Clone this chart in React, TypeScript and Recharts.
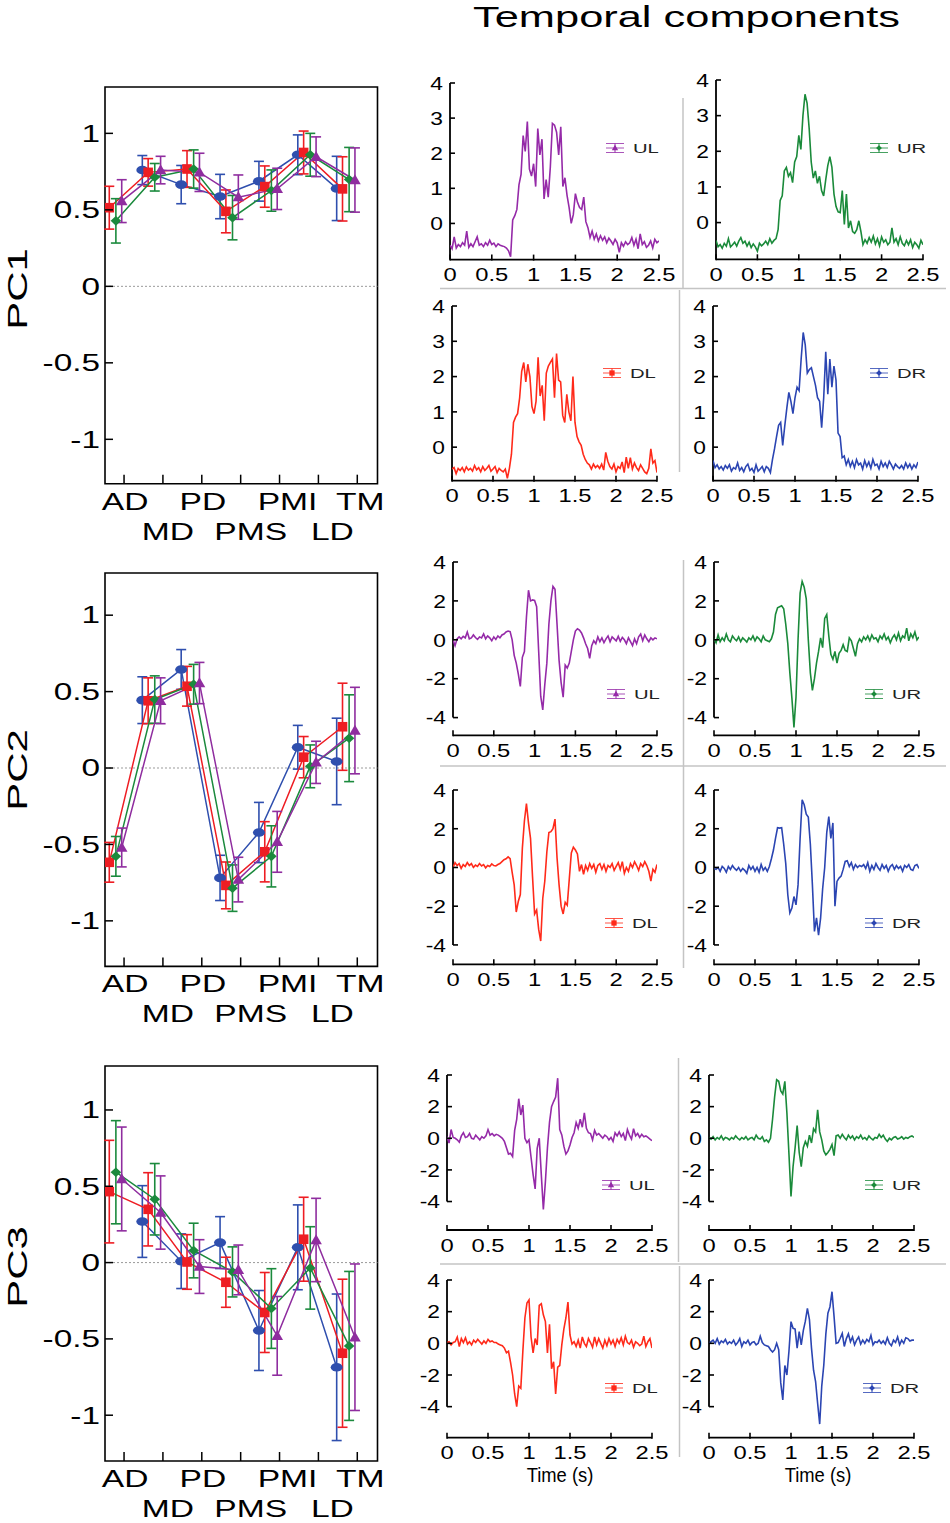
import React from 'react'
import { LineChart, Line, XAxis, YAxis, ReferenceLine, ReferenceArea, ErrorBar, Legend } from 'recharts'

const FONT = '"Liberation Sans", Arial, Helvetica, sans-serif'

// ---- spatial loadings (left column) ----
const CATEGORIES = ['AD', 'MD', 'PD', 'PMS', 'PMI', 'LD', 'TM']
const LOADING_Y_TICKS = [-1, -0.5, 0, 0.5, 1]

const PC1_BLUE = [null, 0.76, 0.665, 0.587, 0.687, 0.86, 0.64]
const PC1_BLUE_ERR = [null, 0.095, 0.125, 0.145, 0.13, 0.13, 0.21]
const PC1_RED = [0.514, 0.745, 0.767, 0.49, 0.652, 0.875, 0.637]
const PC1_RED_ERR = [0.14, 0.09, 0.12, 0.14, 0.135, 0.14, 0.21]
const PC1_GREEN = [0.428, 0.713, 0.767, 0.449, 0.626, 0.86, 0.698]
const PC1_GREEN_ERR = [0.145, 0.09, 0.125, 0.145, 0.135, 0.14, 0.21]
const PC1_PURPLE = [0.557, 0.76, 0.745, 0.583, 0.637, 0.847, 0.695]
const PC1_PURPLE_ERR = [0.14, 0.09, 0.125, 0.145, 0.135, 0.13, 0.21]

const PC2_BLUE = [null, 0.444, 0.645, -0.719, -0.422, 0.136, 0.043]
const PC2_BLUE_ERR = [null, 0.153, 0.13, 0.148, 0.197, 0.143, 0.283]
const PC2_RED = [-0.617, 0.44, 0.535, -0.768, -0.548, 0.071, 0.27]
const PC2_RED_ERR = [0.13, 0.15, 0.13, 0.153, 0.197, 0.135, 0.285]
const PC2_GREEN = [-0.578, 0.448, 0.548, -0.786, -0.578, 0.011, 0.195]
const PC2_GREEN_ERR = [0.13, 0.155, 0.13, 0.152, 0.2, 0.14, 0.284]
const PC2_PURPLE = [-0.52, 0.44, 0.556, -0.73, -0.483, 0.037, 0.245]
const PC2_PURPLE_ERR = [0.127, 0.15, 0.135, 0.146, 0.199, 0.138, 0.283]

const PC3_BLUE = [null, 0.269, 0.009, 0.131, -0.445, 0.1, -0.686]
const PC3_BLUE_ERR = [null, 0.235, 0.179, 0.17, 0.262, 0.278, 0.48]
const PC3_RED = [0.465, 0.349, 0.004, -0.129, -0.327, 0.153, -0.594]
const PC3_RED_ERR = [0.336, 0.24, 0.179, 0.164, 0.262, 0.275, 0.485]
const PC3_GREEN = [0.592, 0.415, 0.079, -0.061, -0.301, -0.035, -0.546]
const PC3_GREEN_ERR = [0.338, 0.234, 0.179, 0.164, 0.261, 0.27, 0.488]
const PC3_PURPLE = [0.548, 0.328, -0.026, -0.048, -0.48, 0.148, -0.489]
const PC3_PURPLE_ERR = [0.34, 0.24, 0.176, 0.163, 0.258, 0.273, 0.48]

// ---- temporal components (right columns) ----
const TIME = [
  0, 0.025, 0.05, 0.075, 0.1, 0.125, 0.15, 0.175, 0.2, 0.225, 0.25, 0.275, 0.3, 0.325, 0.35, 0.375, 0.4, 0.425, 0.45, 0.475,
  0.5, 0.525, 0.55, 0.575, 0.6, 0.625, 0.65, 0.675, 0.7, 0.725, 0.75, 0.775, 0.8, 0.825, 0.85, 0.875, 0.9, 0.925, 0.95, 0.975,
  1, 1.025, 1.05, 1.075, 1.1, 1.125, 1.15, 1.175, 1.2, 1.225, 1.25, 1.275, 1.3, 1.325, 1.35, 1.375, 1.4, 1.425, 1.45, 1.475,
  1.5, 1.525, 1.55, 1.575, 1.6, 1.625, 1.65, 1.675, 1.7, 1.725, 1.75, 1.775, 1.8, 1.825, 1.85, 1.875, 1.9, 1.925, 1.95, 1.975,
  2, 2.025, 2.05, 2.075, 2.1, 2.125, 2.15, 2.175, 2.2, 2.225, 2.25, 2.275, 2.3, 2.325, 2.35, 2.375, 2.4, 2.425, 2.45, 2.475,
  2.5,
]
const TIME_TICKS = [0, 0.5, 1, 1.5, 2, 2.5]
const PC1_TRACE_TICKS = [0, 1, 2, 3, 4]
const PC23_TRACE_TICKS = [-4, -2, 0, 2, 4]

const PC1_UL = [
  -0.62, -0.72, -0.38, -0.70, -0.60, -0.66, -0.55, -0.62, -0.22, -0.68,
  -0.58, -0.66, -0.52, -0.38, -0.62, -0.58, -0.66, -0.55, -0.62, -0.48,
  -0.60, -0.56, -0.66, -0.58, -0.62, -0.64, -0.66, -0.70, -0.78, -0.95,
  0.10, 0.22, 0.40, 1.10, 1.40, 2.50, 2.05, 2.90, 1.55, 1.35,
  1.70, 1.05, 2.70, 1.95, 2.40, 0.70, 1.25, 0.75, 1.60, 2.85,
  2.80, 2.60, 1.95, 2.75, 1.05, 1.30, 0.80, 0.45, 0.00, 0.25,
  0.85, 0.60, 0.45, 0.40, 0.75, 0.05, -0.12, -0.40, -0.22, -0.45,
  -0.30, -0.50, -0.35, -0.48, -0.38, -0.55, -0.42, -0.50, -0.60, -0.45,
  -0.55, -0.82, -0.55, -0.65, -0.52, -0.60, -0.55, -0.40, -0.62, -0.45,
  -0.72, -0.30, -0.60, -0.52, -0.68, -0.62, -0.50, -0.70, -0.45, -0.55,
  -0.50,
]
const PC1_UR = [
  -0.50, -0.68, -0.62, -0.72, -0.58, -0.66, -0.45, -0.68, -0.62, -0.55,
  -0.66, -0.52, -0.42, -0.58, -0.52, -0.66, -0.55, -0.70, -0.60, -0.68,
  -0.80, -0.58, -0.65, -0.60, -0.52, -0.62, -0.45, -0.58, -0.50, -0.45,
  -0.20, 0.62, 0.75, 1.45, 1.55, 1.30, 1.40, 1.12, 1.70, 1.85,
  2.45, 2.05, 3.00, 3.60, 3.35, 2.65, 1.70, 1.25, 1.45, 1.10,
  1.30, 0.90, 0.75, 1.20, 1.60, 1.85, 1.55, 0.80, 0.45, 0.30,
  0.28, 0.90, -0.05, 0.80, -0.15, 0.05, -0.25, -0.30, -0.20, 0.05,
  -0.25, -0.62, -0.48, -0.58, -0.42, -0.55, -0.38, -0.60, -0.45, -0.65,
  -0.40, -0.55, -0.48, -0.62, -0.55, -0.15, -0.55, -0.45, -0.62, -0.40,
  -0.58, -0.65, -0.50, -0.62, -0.48, -0.70, -0.55, -0.62, -0.72, -0.50,
  -0.62,
]
const PC1_DL = [
  -0.62, -0.58, -0.75, -0.60, -0.66, -0.58, -0.70, -0.56, -0.65, -0.60,
  -0.68, -0.52, -0.64, -0.58, -0.70, -0.55, -0.66, -0.60, -0.52, -0.68,
  -0.62, -0.55, -0.72, -0.60, -0.66, -0.70, -0.62, -0.88, -0.60, -0.20,
  0.70, 0.85, 0.95, 1.40, 2.15, 2.40, 1.85, 2.35, 2.00, 1.15,
  0.95, 1.30, 2.55, 1.45, 1.75, 0.75, 2.10, 2.30, 2.40, 2.50,
  1.40, 2.65, 1.90, 1.85, 0.90, 0.70, 1.50, 1.00, 0.75, 2.00,
  0.70, 0.30, 0.15, 0.05, -0.20, -0.35, -0.45, -0.50, -0.62, -0.48,
  -0.58, -0.52, -0.60, -0.48, -0.65, -0.15, -0.40, -0.55, -0.62, -0.48,
  -0.70, -0.55, -0.60, -0.42, -0.72, -0.28, -0.60, -0.30, -0.62, -0.45,
  -0.58, -0.66, -0.50, -0.60, -0.70, -0.75, -0.60, -0.05, -0.45, -0.38,
  -0.72,
]
const PC1_DR = [
  -0.38, -0.58, -0.50, -0.62, -0.55, -0.65, -0.52, -0.60, -0.50, -0.68,
  -0.58, -0.62, -0.45, -0.66, -0.58, -0.70, -0.55, -0.48, -0.66, -0.60,
  -0.72, -0.50, -0.68, -0.62, -0.55, -0.70, -0.55, -0.60, -0.72, -0.35,
  -0.05, 0.30, 0.62, 0.70, 0.05, 0.60, 1.10, 1.55, 1.30, 0.95,
  1.40, 1.70, 1.60, 2.50, 3.25, 2.90, 2.10, 2.20, 2.25, 2.00,
  1.75, 1.40, 1.30, 0.55, 1.40, 2.70, 1.50, 2.50, 1.70, 2.30,
  1.90, 0.40, 0.30, -0.30, -0.25, -0.50, -0.35, -0.55, -0.40, -0.58,
  -0.35, -0.50, -0.45, -0.62, -0.38, -0.55, -0.42, -0.60, -0.35, -0.52,
  -0.48, -0.62, -0.40, -0.55, -0.45, -0.58, -0.40, -0.50, -0.62, -0.48,
  -0.55, -0.60, -0.52, -0.62, -0.45, -0.58, -0.48, -0.62, -0.50, -0.58,
  -0.42,
]
const PC2_UL = [
  0.00, -0.30, 0.05, 0.15, 0.05, 0.18, 0.10, 0.40, 0.05, 0.10,
  0.25, 0.12, 0.02, 0.15, 0.10, 0.30, 0.05, 0.20, 0.10, -0.05,
  0.15, 0.02, 0.20, 0.10, 0.25, 0.30, 0.40, 0.45, 0.42, 0.00,
  -0.80, -1.20, -1.75, -2.40, -0.90, -0.60, 1.16, 2.55, 2.00, 2.05,
  2.02, 1.70, -0.60, -2.90, -3.60, -2.30, -1.20, 0.80, 2.00, 2.75,
  2.60, 0.80, -1.06, -2.20, -2.95, -1.30, -1.45, -1.20, -0.60, 0.00,
  0.45, 0.57, 0.50, 0.35, 0.10, -0.20, -0.45, -0.95, -0.30, -0.05,
  -0.20, 0.15, -0.10, 0.10, -0.15, 0.05, 0.20, -0.10, 0.15, 0.05,
  -0.05, 0.18, -0.08, 0.12, 0.00, -0.20, 0.10, -0.10, -0.30, 0.05,
  -0.20, 0.15, 0.30, -0.05, 0.25, 0.05, -0.10, 0.10, 0.00, 0.10,
  0.05,
]
const PC2_UR = [
  0.05, -0.15, 0.25, -0.10, 0.10, -0.05, 0.30, 0.00, -0.10, 0.20,
  0.05, -0.05, 0.15, -0.10, 0.10, 0.00, -0.12, 0.10, 0.00, 0.20,
  -0.05, 0.15, 0.05, -0.10, 0.20, 0.00, -0.05, -0.10, 0.05, 0.40,
  1.30, 1.65, 1.70, 1.75, 1.60, 0.80, -0.20, -1.70, -3.00, -4.50,
  -2.95, 0.00, 2.40, 3.00, 2.70, 2.10, 0.00, -1.70, -2.60, -2.00,
  -1.20, -0.60, 0.10, -0.40, 1.10, 1.30, 0.20, -0.75, -1.00, -0.60,
  -1.20, -0.70, -0.55, -0.25, -0.55, -0.60, 0.10, -0.05, -0.45, -0.85,
  -0.20, 0.05, -0.10, 0.15, 0.00, 0.20, -0.05, 0.25, 0.05, 0.10,
  -0.10, 0.20, 0.05, 0.30, 0.00, 0.15, -0.15, 0.10, 0.25, 0.00,
  0.35, -0.05, 0.20, 0.10, 0.60, -0.05, 0.30, 0.10, 0.40, 0.00,
  0.15,
]
const PC2_DL = [
  0.00, 0.25, 0.10, 0.20, -0.05, 0.15, 0.05, 0.25, 0.10, 0.20,
  0.00, 0.12, 0.05, 0.20, 0.08, 0.15, -0.02, 0.10, 0.05, 0.18,
  0.10, 0.08, 0.15, 0.20, 0.30, 0.40, 0.45, 0.55, 0.45, -0.25,
  -0.90, -2.30, -1.76, -1.40, 1.00, 2.40, 3.30, 2.30, 1.50, -0.50,
  -2.40, -2.20, -3.20, -3.80, -1.60, -0.70, 0.80, 1.80, 1.85, 2.00,
  2.50, 0.50, -0.90, -2.00, -2.40, -1.80, -1.95, -0.60, 0.75, 1.05,
  0.90, 0.70, -0.20, 0.15, -0.35, 0.10, -0.15, 0.20, -0.05, 0.15,
  -0.25, 0.10, 0.20, -0.10, 0.15, -0.20, 0.10, 0.00, 0.20, -0.15,
  0.05, 0.25, -0.10, 0.30, -0.30, 0.00, -0.20, 0.20, 0.00, 0.30,
  0.10, -0.15, 0.20, 0.05, 0.30, 0.10, -0.20, -0.70, -0.10, -0.25,
  0.15,
]
const PC2_DR = [
  -0.05, -0.10, 0.00, -0.20, 0.05, -0.05, -0.25, 0.05, -0.10, 0.10,
  -0.05, -0.15, 0.00, -0.20, -0.05, -0.15, -0.30, 0.10, -0.10, 0.05,
  -0.20, 0.00, -0.25, 0.15, -0.15, 0.00, -0.20, 0.05, 0.45, 0.90,
  1.50, 2.05, 2.03, 2.05, 1.20, 0.20, -1.41, -2.35, -2.10, -1.50,
  -1.93, -0.90, 1.50, 3.50, 3.24, 2.75, 2.60, 1.20, -0.90, -3.30,
  -2.60, -3.50, -2.62, -1.10, 0.00, 1.80, 2.63, 1.50, 2.30, -2.00,
  -0.72, -0.55, -0.45, -0.10, 0.31, 0.35, 0.05, 0.25, -0.10, 0.15,
  0.00, 0.10, 0.05, 0.15, -0.05, 0.25, -0.20, 0.10, -0.10, 0.20,
  0.00, -0.15, 0.15, -0.05, 0.10, -0.20, 0.05, 0.15, -0.10, 0.10,
  -0.05, 0.05, -0.20, 0.10, 0.00, 0.15, -0.10, -0.15, 0.10, 0.15,
  -0.05,
]
const PC3_UL = [
  0.10, -0.30, 0.55, 0.05, 0.00, -0.10, -0.25, 0.15, 0.35, 0.05,
  0.10, 0.30, 0.00, -0.05, 0.20, 0.05, -0.10, 0.10, 0.00, 0.15,
  0.55, 0.20, 0.30, 0.15, 0.25, 0.20, 0.10, 0.00, -0.20, -0.60,
  -1.00, -0.95, -1.16, 0.50, 1.20, 2.50, 1.47, 2.10, 0.00, -0.28,
  -0.10, -1.20, -2.30, -3.20, -0.63, 0.00, -2.30, -4.50, -2.74, -0.60,
  1.00, 2.00, 2.32, 2.60, 3.80, 0.55, 0.21, -0.50, -1.00, -0.80,
  -0.42, 0.05, 0.35, 1.00, 0.63, 1.20, 0.70, 1.60, 0.63, 0.35,
  0.30, -0.10, 0.50, 0.20, 0.30, 0.15, 0.00, 0.20, 0.10, -0.10,
  0.05, -0.20, 0.35, 0.15, 0.40, 0.10, 0.30, -0.15, 0.55, 0.20,
  -0.05, 0.60, 0.15, 0.30, 0.05, 0.25, 0.10, 0.15, 0.05, -0.05,
  -0.15,
]
const PC3_UR = [
  0.05, -0.05, 0.10, -0.10, 0.05, -0.05, 0.15, -0.10, 0.05, 0.00,
  -0.10, 0.05, -0.05, 0.15, 0.00, -0.10, 0.05, -0.05, 0.10, -0.10,
  0.00, 0.05, -0.10, 0.20, 0.00, -0.05, 0.10, -0.20, -0.10, -0.25,
  0.00, 1.20, 2.60, 3.70, 3.60, 3.00, 2.80, 3.60, 1.60, -1.00,
  -3.68, -1.80, -0.60, 0.80, -0.90, -1.80, -0.60, -0.20, -0.50, 0.20,
  -0.30, 0.60, 0.40, 1.80, 0.40, -0.10, -0.80, -1.05, -0.90, -0.70,
  -0.40, -1.10, 0.15, 0.20, 0.00, 0.25, 0.05, -0.10, 0.20, 0.00,
  0.15, -0.10, 0.10, 0.00, 0.20, -0.05, 0.05, -0.10, 0.15, 0.00,
  -0.10, 0.05, 0.00, 0.25, 0.05, 0.20, -0.05, -0.20, 0.00, -0.10,
  0.05, 0.10, -0.05, 0.00, 0.10, -0.05, 0.05, 0.00, 0.10, 0.15,
  0.05,
]
const PC3_DL = [
  0.05, 0.10, -0.10, 0.05, 0.10, 0.40, -0.20, 0.30, 0.05, 0.35,
  -0.05, 0.10, -0.10, 0.20, 0.05, 0.25, 0.10, -0.05, 0.15, 0.00,
  0.25, 0.10, 0.15, 0.05, 0.05, -0.05, -0.10, -0.15, -0.30, -0.60,
  -0.50, -1.20, -2.00, -3.20, -4.00, -2.70, -2.84, -0.50, 1.60, 2.55,
  2.74, 0.40, -0.60, 0.30, -0.10, 2.40, 2.50, 1.80, 1.37, -0.60,
  1.20, -1.60, -1.16, -3.20, -1.50, -1.40, -0.10, 0.90, 1.60, 2.60,
  0.53, -0.05, 0.10, -0.20, 0.20, -0.30, 0.40, 0.00, -0.20, 0.30,
  0.05, -0.25, 0.40, -0.10, 0.30, 0.00, -0.30, 0.20, -0.15, 0.30,
  -0.05, 0.20, -0.20, 0.25, 0.00, 0.35, -0.10, 0.45, 0.05, -0.05,
  0.20, -0.25, 0.10, 0.00, -0.15, -0.05, 0.45, -0.20, 0.10, 0.30,
  -0.30,
]
const PC3_DR = [
  0.00, 0.10, 0.20, 0.00, 0.30, -0.05, 0.15, 0.05, 0.25, -0.05,
  0.10, 0.00, 0.20, -0.10, 0.05, 0.30, -0.20, 0.10, 0.00, 0.20,
  -0.10, 0.05, 0.10, -0.10, 0.00, 0.45, 0.05, -0.10, -0.15, -0.20,
  -0.40, -0.55, -0.40, 0.00, -0.40, -2.50, -3.58, -1.40, -2.00, -0.50,
  1.37, 0.95, 0.90, -0.30, 0.74, -0.10, 0.80, 1.40, 2.21, 1.50,
  -0.30, -1.70, -2.42, -3.80, -5.10, -2.70, -1.37, 0.60, 1.90, 2.30,
  3.26, 1.70, 0.00, 0.05, 0.32, 0.63, -0.20, 0.30, 0.60, 0.10,
  0.40, -0.10, 0.20, 0.40, -0.05, 0.20, 0.00, 0.25, 0.10, 0.50,
  -0.10, 0.10, 0.05, 0.20, 0.00, 0.15, -0.05, 0.35, 0.00, -0.15,
  0.20, 0.05, 0.40, -0.10, 0.20, 0.00, 0.35, 0.30, 0.15, 0.20,
  0.20,
]

// ---- styles / layout ----
const SUBJECTS = [
  { key: 'blue', color: '#2f4fae', marker: 'ellipse', offset: -0.53 },
  { key: 'red', color: '#ee1d23', marker: 'square', offset: -0.38 },
  { key: 'green', color: '#1b8a3d', marker: 'diamond', offset: -0.21 },
  { key: 'purple', color: '#8f2d9f', marker: 'triangle', offset: -0.06 },
]
const LIMB = {
  UL: { color: '#952aa8', marker: 'triangle' },
  UR: { color: '#1a8a3a', marker: 'diamond' },
  DL: { color: '#ff2a1a', marker: 'square' },
  DR: { color: '#2b45b2', marker: 'diamond' },
}

const BOX_LEFT = 105
const BOX_W = 272.5
const X_DOMAIN = [-0.49, 6.52]
const CAT_SHIFT = [1, 5, 1, 10, 8, 14, 3]

const LOADING_PANELS = [
  {
    label: 'PC1', labelY: 289, top: 87.3, height: 396.7, domain: [-1.29, 1.303],
    means: [PC1_BLUE, PC1_RED, PC1_GREEN, PC1_PURPLE],
    errs: [PC1_BLUE_ERR, PC1_RED_ERR, PC1_GREEN_ERR, PC1_PURPLE_ERR],
  },
  {
    label: 'PC2', labelY: 770, top: 573.3, height: 393.4, domain: [-1.298, 1.276],
    means: [PC2_BLUE, PC2_RED, PC2_GREEN, PC2_PURPLE],
    errs: [PC2_BLUE_ERR, PC2_RED_ERR, PC2_GREEN_ERR, PC2_PURPLE_ERR],
  },
  {
    label: 'PC3', labelY: 1267, top: 1066, height: 395, domain: [-1.3, 1.288],
    means: [PC3_BLUE, PC3_RED, PC3_GREEN, PC3_PURPLE],
    errs: [PC3_BLUE_ERR, PC3_RED_ERR, PC3_GREEN_ERR, PC3_PURPLE_ERR],
  },
]

const TRACE_PANELS = [
  { name: 'UL', values: PC1_UL, left: 450, top: 82.7, w: 209, h: 176.6, yMin: -1.03, ticks: PC1_TRACE_TICKS, lx: 606, ly: 148 },
  { name: 'UR', values: PC1_UR, left: 716, top: 80, w: 207, h: 179.3, yMin: -1.03, ticks: PC1_TRACE_TICKS, lx: 870, ly: 148 },
  { name: 'DL', values: PC1_DL, left: 452, top: 306, w: 205, h: 174.7, yMin: -0.95, ticks: PC1_TRACE_TICKS, lx: 603, ly: 373 },
  { name: 'DR', values: PC1_DR, left: 713, top: 306, w: 205, h: 174.7, yMin: -0.95, ticks: PC1_TRACE_TICKS, lx: 870, ly: 373 },
  { name: 'UL', values: PC2_UL, left: 453, top: 561.7, w: 204, h: 173.3, yMin: -4.91, ticks: PC23_TRACE_TICKS, lx: 607, ly: 694 },
  { name: 'UR', values: PC2_UR, left: 714, top: 561.7, w: 205, h: 173.3, yMin: -4.91, ticks: PC23_TRACE_TICKS, lx: 865, ly: 694 },
  { name: 'DL', values: PC2_DL, left: 453, top: 790, w: 204, h: 174.3, yMin: -5.0, ticks: PC23_TRACE_TICKS, lx: 605, ly: 923 },
  { name: 'DR', values: PC2_DR, left: 714, top: 790, w: 205, h: 174.3, yMin: -5.0, ticks: PC23_TRACE_TICKS, lx: 865, ly: 923 },
  { name: 'UL', values: PC3_UL, left: 447, top: 1075, w: 205, h: 155, yMin: -5.8, ticks: PC23_TRACE_TICKS, lx: 602, ly: 1185 },
  { name: 'UR', values: PC3_UR, left: 709, top: 1075, w: 205, h: 155, yMin: -5.8, ticks: PC23_TRACE_TICKS, lx: 865, ly: 1185 },
  { name: 'DL', values: PC3_DL, left: 447, top: 1280, w: 205, h: 157.7, yMin: -5.96, ticks: PC23_TRACE_TICKS, lx: 605, ly: 1388 },
  { name: 'DR', values: PC3_DR, left: 709, top: 1280, w: 205, h: 157.7, yMin: -5.96, ticks: PC23_TRACE_TICKS, lx: 863, ly: 1388 },
]

const SEPARATORS = [
  [440, 288.5, 946, 288.5], [440, 766, 946, 766], [440, 1264, 946, 1264],
  [683, 98, 683, 288], [679.5, 290, 679.5, 472],
  [683.5, 560, 683.5, 968],
  [678.5, 1058, 678.5, 1262], [679.5, 1266, 679.5, 1457],
]

function Marker({ cx, cy, kind, color, s = 1 }: any) {
  if (cx == null || cy == null) return <g />
  if (kind === 'ellipse') return <ellipse cx={cx} cy={cy} rx={6 * s} ry={4.3 * s} fill={color} />
  if (kind === 'square') return <rect x={cx - 4.8 * s} y={cy - 4.8 * s} width={9.6 * s} height={9.6 * s} fill={color} />
  if (kind === 'diamond')
    return <polygon points={`${cx},${cy - 4.8 * s} ${cx + 5.3 * s},${cy} ${cx},${cy + 4.8 * s} ${cx - 5.3 * s},${cy}`} fill={color} />
  return <polygon points={`${cx},${cy - 5.8 * s} ${cx + 5.8 * s},${cy + 4.2 * s} ${cx - 5.8 * s},${cy + 4.2 * s}`} fill={color} />
}

const LoadingYTick = ({ x, y, payload }: any) => (
  <g>
    <line x1={x} x2={x + 8} y1={y} y2={y} stroke="#000" strokeWidth={1.5} />
    <text transform={`translate(${x - 5},${y + 8.3}) scale(1.45,1)`} textAnchor="end" fontSize={23} fontFamily={FONT} fill="#000">
      {String(payload.value)}
    </text>
  </g>
)

const CategoryTick = ({ x, y, payload }: any) => {
  const i = payload.value
  return (
    <g>
      <line x1={x} x2={x} y1={y} y2={y - 9} stroke="#000" strokeWidth={1.5} />
      <text transform={`translate(${x + CAT_SHIFT[i]},${y + (i % 2 ? 56 : 26)}) scale(1.4,1)`} textAnchor="middle" fontSize={24} fontFamily={FONT} fill="#000">
        {CATEGORIES[i]}
      </text>
    </g>
  )
}

const TraceYTick = ({ x, y, payload }: any) => (
  <g>
    <line x1={x} x2={x + 5} y1={y} y2={y} stroke="#000" strokeWidth={1.6} />
    <text transform={`translate(${x - 7},${y + 6.8}) scale(1.2,1)`} textAnchor="end" fontSize={19} fontFamily={FONT} fill="#000">
      {String(payload.value)}
    </text>
  </g>
)

const TraceXTick = ({ x, y, payload }: any) => (
  <g>
    <line x1={x} x2={x} y1={y - 5} y2={y + 1} stroke="#000" strokeWidth={1.6} />
    <text transform={`translate(${x},${y + 21.5}) scale(1.25,1)`} textAnchor="middle" fontSize={19} fontFamily={FONT} fill="#000">
      {String(payload.value)}
    </text>
  </g>
)

function LegendGlyph({ name }: any) {
  const { color, marker } = LIMB[name]
  return (
    <svg width={64} height={18} style={{ display: 'block', overflow: 'visible' }}>
      {[4.5, 9, 13.5].map((yy) => (
        <line key={yy} x1={0} x2={18} y1={yy} y2={yy} stroke={color} strokeWidth={1} opacity={0.8} />
      ))}
      <line x1={9} x2={9} y1={4.5} y2={13.5} stroke={color} strokeWidth={1} />
      <Marker cx={9} cy={9} kind={marker} color={color} s={0.55} />
      <text transform="translate(27,14) scale(1.5,1)" fontSize={13.5} fontFamily={FONT} fill="#222">
        {name}
      </text>
    </svg>
  )
}

function LoadingPanel({ panel }: any) {
  const MT = 12
  const XH = 72
  const MR = 20
  const series = SUBJECTS.map((s, k) => ({
    ...s,
    rows: CATEGORIES.map((c, i) => ({ x: i + s.offset, y: panel.means[k][i], e: panel.errs[k][i] })).filter((r) => r.y !== null),
  }))
  return (
    <div style={{ position: 'absolute', left: 0, top: panel.top - MT }}>
      <LineChart width={BOX_LEFT + BOX_W + MR} height={MT + panel.height + XH} margin={{ top: MT, right: MR, bottom: 0, left: 0 }}>
        <XAxis type="number" dataKey="x" domain={X_DOMAIN} ticks={[0, 1, 2, 3, 4, 5, 6]} interval={0} height={XH}
          axisLine={false} tickLine={false} tickSize={0} tickMargin={0} tick={<CategoryTick />} allowDataOverflow />
        <YAxis type="number" domain={panel.domain} ticks={LOADING_Y_TICKS} interval={0} width={BOX_LEFT}
          axisLine={false} tickLine={false} tickSize={0} tickMargin={0} tick={<LoadingYTick />} allowDataOverflow />
        <ReferenceLine y={0} stroke="#9a9a9a" strokeDasharray="2 2" strokeWidth={1} />
        {series.map((s) => (
          <Line key={s.key} data={s.rows} dataKey="y" type="linear" stroke={s.color} strokeWidth={1.5}
            isAnimationActive={false} activeDot={false}
            dot={(p: any) => <Marker key={`${s.key}-${p.index}`} cx={p.cx} cy={p.cy} kind={s.marker} color={s.color} />}>
            <ErrorBar dataKey="e" width={5} stroke={s.color} strokeWidth={1.6} direction="y" isAnimationActive={false} />
          </Line>
        ))}
        <ReferenceArea x1={X_DOMAIN[0]} x2={X_DOMAIN[1]} y1={panel.domain[0]} y2={panel.domain[1]} fill="none" fillOpacity={0} stroke="#000" strokeWidth={1.6} />
      </LineChart>
    </div>
  )
}

function TracePanel({ panel }: any) {
  const MT = 10
  const YW = 32
  const XH = 30
  const MR = 22
  const data = TIME.map((t, i) => ({ t, v: panel.values[i] }))
  const axisBottom = panel.ticks[0] < 0 ? panel.ticks[0] : panel.yMin
  const divLeft = panel.left - YW
  const divTop = panel.top - MT
  return (
    <div style={{ position: 'absolute', left: divLeft, top: divTop }}>
      <LineChart width={YW + panel.w + MR} height={MT + panel.h + XH} data={data} margin={{ top: MT, right: MR, bottom: 0, left: 0 }}>
        <XAxis type="number" dataKey="t" domain={[0, 2.5]} ticks={TIME_TICKS} interval={0} height={XH}
          axisLine={{ stroke: '#000', strokeWidth: 1.8 }} tickLine={false} tickSize={0} tickMargin={0} tick={<TraceXTick />} allowDataOverflow />
        <YAxis type="number" domain={[panel.yMin, 4]} ticks={panel.ticks} interval={0} width={YW}
          axisLine={false} tickLine={false} tickSize={0} tickMargin={0} tick={<TraceYTick />} allowDataOverflow />
        <ReferenceLine segment={[{ x: 0, y: axisBottom }, { x: 0, y: 4 }]} stroke="#000" strokeWidth={1.8} />
        <Line dataKey="v" type="linear" stroke={LIMB[panel.name].color} strokeWidth={1.6} dot={false} activeDot={false} isAnimationActive={false} />
        <Legend layout="vertical" align="center" verticalAlign="middle"
          wrapperStyle={{ left: panel.lx - divLeft, top: panel.ly - 9 - divTop, width: 64 }}
          content={() => <LegendGlyph name={panel.name} />} />
      </LineChart>
    </div>
  )
}

export default function App() {
  return (
    <div style={{ position: 'absolute', left: 0, top: 0, width: 950, height: 1523, background: '#fff', overflow: 'hidden', fontFamily: FONT }}>
      <svg width={950} height={1523} style={{ position: 'absolute', left: 0, top: 0 }}>
        {SEPARATORS.map(([x1, y1, x2, y2], i) => (
          <line key={i} x1={x1} y1={y1} x2={x2} y2={y2} stroke="#c4c4c4" strokeWidth={1.5} />
        ))}
        <text x={473} y={27} fontSize={30} fontFamily={FONT} fill="#000" textLength={427} lengthAdjust="spacingAndGlyphs">
          Temporal components
        </text>
        {LOADING_PANELS.map((p) => (
          <text key={p.label} transform={`translate(27,${p.labelY}) rotate(-90) scale(1.5,1)`} textAnchor="middle" fontSize={28} fontFamily={FONT} fill="#000">
            {p.label}
          </text>
        ))}
        <text transform="translate(560,1482) scale(0.92,1)" textAnchor="middle" fontSize={20} fontFamily={FONT} fill="#000">Time (s)</text>
        <text transform="translate(818,1482) scale(0.92,1)" textAnchor="middle" fontSize={20} fontFamily={FONT} fill="#000">Time (s)</text>
      </svg>
      {LOADING_PANELS.map((p) => (
        <LoadingPanel key={p.label} panel={p} />
      ))}
      {TRACE_PANELS.map((p, i) => (
        <TracePanel key={i} panel={p} />
      ))}
    </div>
  )
}
